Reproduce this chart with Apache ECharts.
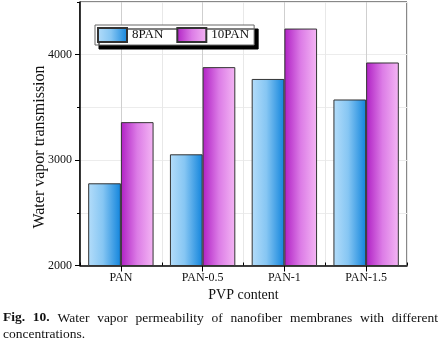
<!DOCTYPE html>
<html><head><meta charset="utf-8">
<script src="https://cdn.jsdelivr.net/npm/echarts@6/dist/echarts.min.js"></script>
<style>html,body{margin:0;padding:0;background:#fff}#c{width:441px;height:349px}</style>
</head><body><div id="c"></div>
<script>
var categories = ['PAN', 'PAN-0.5', 'PAN-1', 'PAN-1.5'];
var seriesNames = ['8PAN', '10PAN'];
var values8PAN = [2780, 3055, 3770, 3575];
var values10PAN = [3360, 3882, 4248, 3926];
var yTicks = [2000, 3000, 4000];
var xTitle = 'PVP content';
var yTitle = 'Water vapor transmission';
var captionBold = 'Fig. 10.';
var captionLine1 = 'Water vapor permeability of nanofiber membranes with different';
var captionLine2 = 'concentrations.';

var SERIF = '"Liberation Serif","Times New Roman",serif';
var chart = echarts.init(document.getElementById('c'), null, {renderer: 'canvas'});

var blueGrad = new echarts.graphic.LinearGradient(0, 0, 1, 0, [
  {offset: 0, color: '#b4ddfa'}, {offset: 0.45, color: '#86c6f3'}, {offset: 1, color: '#1184dc'}]);
var purpleGrad = new echarts.graphic.LinearGradient(0, 0, 1, 0, [
  {offset: 0, color: '#b020c4'}, {offset: 0.5, color: '#dc7ce6'}, {offset: 1, color: '#f4b6f4'}]);

// caption justification
var cv = document.createElement('canvas').getContext('2d');
var capFont = 13.5;
var words = captionBold.split(' ').map(function (w) { return {t: w, b: true}; })
  .concat(captionLine1.split(' ').map(function (w) { return {t: w, b: false}; }));
var total = 0;
words.forEach(function (w) {
  cv.font = (w.b ? 'bold ' : '') + capFont + 'px ' + SERIF;
  w.w = cv.measureText(w.t).width; total += w.w;
});
var x0 = 3, x1 = 438;
var gap = (x1 - x0 - total) / (words.length - 1);
var graphics = [];
var cx = x0;
words.forEach(function (w) {
  graphics.push({type: 'text', left: cx, top: 311, style: {text: w.t, font: (w.b ? 'bold ' : '') + capFont + 'px ' + SERIF, fill: '#111'}});
  cx += w.w + gap;
});
graphics.push({type: 'text', left: x0, top: 327, style: {text: captionLine2, font: capFont + 'px ' + SERIF, fill: '#111'}});
graphics.push({type: 'text', x: 40, y: 147, rotation: Math.PI / 2, style: {text: yTitle, font: '16px ' + SERIF, fill: '#111', textAlign: 'center', textVerticalAlign: 'middle'}});

chart.setOption({
  animation: false,
  backgroundColor: '#fff',
  textStyle: {fontFamily: SERIF},
  grid: {left: 80, right: 34, top: 2, bottom: 83.5, show: true, borderColor: '#111', borderWidth: 1, backgroundColor: '#fff'},
  legend: {
    data: seriesNames, left: 95, top: 25, padding: [2, 5, 2, 2], itemGap: 13,
    itemWidth: 29, itemHeight: 14, icon: 'rect',
    backgroundColor: '#fff', borderColor: '#666', borderWidth: 1,
    shadowColor: '#000', shadowBlur: 0, shadowOffsetX: 4, shadowOffsetY: 4,
    textStyle: {fontFamily: SERIF, fontSize: 13, color: '#111'}
  },
  xAxis: [{
    type: 'category', data: categories, boundaryGap: true,
    name: xTitle, nameLocation: 'middle', nameGap: 19,
    nameTextStyle: {fontFamily: SERIF, fontSize: 14, color: '#111'},
    axisLine: {lineStyle: {color: '#000', width: 1.5}},
    axisTick: {show: true, inside: true, length: 3, lineStyle: {color: '#000'}},
    axisLabel: {fontFamily: SERIF, fontSize: 12, color: '#111', margin: 6},
    splitLine: {show: true, lineStyle: {color: '#e8e8e8', width: 1}}
  }, {
    type: 'category', data: categories, boundaryGap: true, position: 'bottom',
    axisLine: {show: false},
    axisTick: {show: true, alignWithLabel: true, length: 6, lineStyle: {color: '#000'}},
    axisLabel: {show: false},
    splitLine: {show: true, alignWithLabel: true, lineStyle: {color: '#cfcfcf', width: 1}}
  }],
  yAxis: [{
    type: 'value', min: 2000, max: 4500, interval: 1000, position: 'left',
    axisLine: {show: true, lineStyle: {color: '#000', width: 1.5}},
    axisTick: {show: true, length: 5, lineStyle: {color: '#000'}},
    axisLabel: {fontFamily: SERIF, fontSize: 12, color: '#111', margin: 8, showMaxLabel: false,
      formatter: function (v) { return yTicks.indexOf(v) >= 0 ? String(v) : ''; }},
    splitLine: {show: true, lineStyle: {color: '#cfcfcf', width: 1}}
  }, {
    type: 'value', min: 2000, max: 4500, interval: 500, position: 'left', offset: 0,
    axisLine: {show: false},
    axisTick: {show: true, length: 3, lineStyle: {color: '#000'}},
    axisLabel: {show: false},
    splitLine: {show: true, lineStyle: {color: '#ececec', width: 1}}
  }],
  series: [{
    name: seriesNames[0], type: 'bar', data: values8PAN, xAxisIndex: 0, yAxisIndex: 0,
    barGap: '0%', barCategoryGap: '20%',
    itemStyle: {color: blueGrad, borderColor: '#333', borderWidth: 1}
  }, {
    name: seriesNames[1], type: 'bar', data: values10PAN, xAxisIndex: 0, yAxisIndex: 0,
    barGap: '0%', barCategoryGap: '20%',
    itemStyle: {color: purpleGrad, borderColor: '#333', borderWidth: 1}
  }],
  graphic: graphics
});
</script></body></html>
